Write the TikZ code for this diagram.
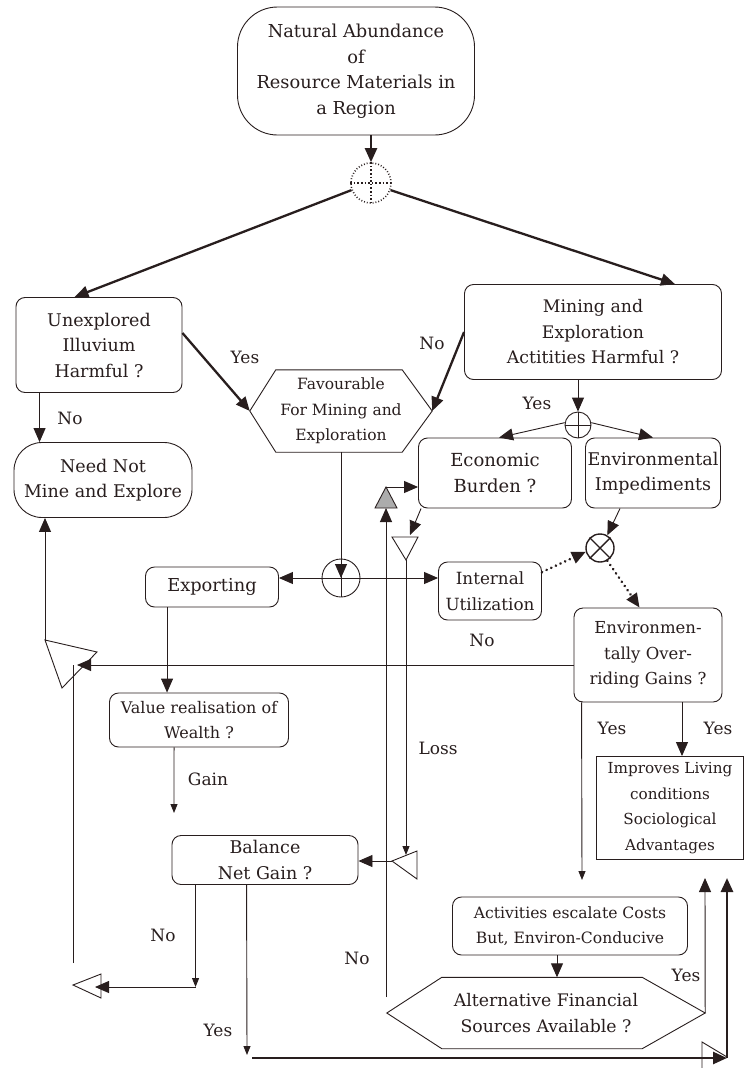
\documentclass[tikz,border=0pt]{standalone}
\usepackage{fontspec}
\setmainfont{DejaVu Serif}
\usetikzlibrary{arrows.meta,calc}
\definecolor{ink}{RGB}{40,30,30}
\newcommand\fsz[1]{\fontsize{#1}{25.5}\selectfont}
\begin{document}
\begin{tikzpicture}[x=1pt,y=-1pt,
  every node/.style={text=ink},
  bx/.style={draw=ink,line width=0.9pt,rounded corners=9pt,align=center,inner sep=0pt},
  sq/.style={draw=ink,line width=0.9pt,align=center,inner sep=0pt},
  plain/.style={align=center,inner sep=0pt},
  ln/.style={draw=ink,line width=0.9pt},
  tk/.style={draw=ink,line width=2.3pt},
  dt/.style={draw=ink,line width=2.8pt,dash pattern=on 0.1pt off 5pt,line cap=round},
  big/.style={-{Triangle[length=14pt,width=12pt]}},
  sml/.style={-{Triangle[length=9pt,width=7pt]}},
  lbl/.style={font=\fsz{17},inner sep=0pt},
  jn/.style={draw=ink,line width=0.9pt,circle,inner sep=0pt},
]
\useasboundingbox[fill=white] (0,0) rectangle (747,1068);

% ---------- nodes ----------
\node[bx,rounded corners=40pt,minimum width=237pt,minimum height=128pt,font=\fsz{17.8}] (top) at (356,71) {Natural Abundance\\of\\Resource Materials in\\a Region};
\node[jn,dotted,line width=1.6pt,minimum size=40pt] (j0) at (371,183) {};
\draw[ink,dotted,line width=1.6pt] (j0.north) -- (j0.south) (j0.west) -- (j0.east);

\node[bx,minimum width=166pt,minimum height=95pt,font=\fsz{17.5}] (unexp) at (99,345) {Unexplored\\Illuvium\\Harmful ?};
\node[bx,rounded corners=28pt,minimum width=178pt,minimum height=75pt,font=\fsz{17.5}] (need) at (103,480) {Need Not\\Mine and Explore};
\node[bx,minimum width=257pt,minimum height=95pt,font=\fsz{17.3}] (mining) at (593,332) {Mining and\\Exploration\\Actitities Harmful ?};

\node[plain,minimum width=182pt,minimum height=82pt,font=\fsz{15.5}] (fav) at (341,411) {Favourable\\For Mining and\\Exploration};
\draw[ln] (fav.west) -- ([xshift=26pt]fav.north west) -- ([xshift=-30pt]fav.north east) -- (fav.east) -- ([xshift=-30pt]fav.south east) -- ([xshift=26pt]fav.south west) -- cycle;

\node[jn,minimum size=26pt] (j1) at (578,425) {};
\draw[ln] (j1.north) -- (j1.south) (j1.west) -- (j1.east);
\node[bx,minimum width=153pt,minimum height=70pt,font=\fsz{18}] (econ) at (495,473) {Economic\\Burden ?};
\node[bx,minimum width=135pt,minimum height=70pt,font=\fsz{17.5}] (env) at (653,473) {Environmental\\Impediments};
\node[jn,line width=1.4pt,minimum size=28pt] (j2) at (600,548) {};
\draw[ink,line width=1.4pt] (j2.45) -- (j2.225) (j2.135) -- (j2.315);

\node[jn,minimum size=38pt] (j3) at (341,578) {};
\draw[ln] (j3.north) -- (j3.south) (j3.west) -- (j3.east);
\node[bx,minimum width=133pt,minimum height=40pt,font=\fsz{17.8}] (exp) at (212,587) {Exporting};
\node[bx,minimum width=103pt,minimum height=58pt,font=\fsz{16.8}] (int) at (490,591) {Internal\\Utilization};
\node[bx,minimum width=148pt,minimum height=94pt,font=\fsz{16.5}] (eg) at (648,655) {Environmen-\\tally Over-\\riding Gains ?};
\node[bx,minimum width=179pt,minimum height=54pt,font=\fsz{16}] (val) at (199,720) {Value realisation of\\Wealth ?};
\node[sq,minimum width=147pt,minimum height=103pt,font=\fsz{15.2}] (imp) at (670,808) {Improves Living\\conditions\\Sociological\\Advantages};
\node[bx,minimum width=186pt,minimum height=49pt,font=\fsz{17.5}] (bal) at (265,860) {Balance\\Net Gain ?};
\node[bx,minimum width=235pt,minimum height=58pt,font=\fsz{15.6}] (act) at (570,926) {Activities escalate Costs\\But, Environ-Conducive};
\node[plain,minimum width=318pt,minimum height=71pt,font=\fsz{17.3}] (alt) at (546,1013) {Alternative Financial\\Sources Available ?};
\draw[ln] (alt.west) -- ([xshift=55pt]alt.north west) -- ([xshift=-63pt]alt.north east) -- (alt.east) -- ([xshift=-63pt]alt.south east) -- ([xshift=55pt]alt.south west) -- cycle;

% ---------- triangles ----------
\draw[ln,fill=gray!65] (375,508) -- (397,508) -- (386,487) -- cycle;
\coordinate (t1b) at (386,508);
\coordinate (t1a) at (386,487);
\draw[ln] (392,537) -- (418,537) -- (406,560) -- cycle;
\coordinate (t2in) at (410,535);
\coordinate (t2a) at (406,560);
\draw[ln] (392,861) -- (417,851) -- (417,879) -- cycle;
\coordinate (t3a) at (392,861);
\coordinate (t3in) at (406,855);
\draw[ln] (45,640) -- (97,652) -- (62,688) -- cycle;
\coordinate (t4) at (45,640);
\coordinate (t4in) at (77,665);
\draw[ln] (73,985) -- (101,974) -- (101,998) -- cycle;
\coordinate (t5b) at (95,987);
\draw[ln] (702,1068) -- (702,1042) -- (727,1057);

% ---------- connectors ----------
\draw[tk,big] (top.south -| j0) -- (j0.north);
\draw[tk,big] (j0.200) -- ([xshift=59pt]unexp.north west);
\draw[tk,big] (j0.-20) -- ([xshift=-47pt]mining.north east);

\path ([xshift=24pt]unexp.south west) coordinate (u1);
\draw[ln,big] (u1) -- (u1 |- need.north);
\draw[tk,big] ([yshift=12pt]unexp.east) -- (fav.west);
\draw[tk,big] (mining.west) -- (fav.east);

\draw[ln,big] (j1 |- mining.south) -- (j1.north);
\draw[ln,big] (j1.170) -- ([xshift=81pt]econ.north west);
\draw[ln,big] (j1.10) -- (env.north);
\draw[ln,big] ([xshift=-33pt]env.south) -- (j2.60);
\draw[dt,big] (int.20) -- (j2.195);
\draw[dt,big] (j2.-60) -- ([xshift=66pt]eg.north west);

\draw[ln,big] (fav.south) -- (j3.center);
\draw[ln,big] (j3.center) -- (j3 -| exp.east);
\draw[ln,big] (j3.center) -- (j3 -| int.west);

\path ([xshift=22pt]exp.south west) coordinate (e1);
\draw[ln,big] (e1) -- (e1 |- val.north);
\path ([xshift=65pt]val.south west) coordinate (v1);
\coordinate (gainend) at (174,813);
\draw[ln,sml] (v1) -- (gainend);

\draw[ln,big] ([xshift=3pt]econ.south west) -- (t2in);
\draw[ln,sml] (t2a) -- (t3in);
\draw[ln,big] (t3a) -- (t3a -| bal.east);
\coordinate (nobot) at (386,997);
\draw[ln,big] (nobot) -- (t1b);
\draw[ln,big] (t1a) -- (t1a -| econ.west);

\draw[ln,big] (t4) -- (t4 |- need.south);
\path (eg.west) ++(0,10) coordinate (egw);
\draw[ln,big] (egw) -- (t4in);
\coordinate (lb) at (73,963);
\draw[ln] (lb) -- (lb |- t4in);

\path ([xshift=34pt]eg.south) coordinate (g1);
\draw[ln,big] (g1) -- (g1 |- imp.north);
\path ([xshift=8pt]eg.south west) coordinate (g2);
\coordinate (actin) at (582,880);
\draw[ln,sml] (g2) -- (actin);

\path ([xshift=-13pt]act.south) coordinate (a1);
\draw[ln,big] (a1) -- (a1 |- alt.north);
\coordinate (altup) at (705,878);
\draw[ln,big] (alt.east) -- (altup);

\path ([xshift=24pt]bal.south west) coordinate (b1);
\draw[ln,sml] (b1) -- (b1 |- t5b);
\draw[ln,big] (b1 |- t5b) -- (t5b);
\path ([xshift=75pt]bal.south west) coordinate (b2);
\coordinate (yesend) at (247,1055);
\draw[ln,sml] (b2) -- (yesend);

\coordinate (bl) at (252,1058);
\coordinate (br) at (727,1058);
\coordinate (brt) at (727,878);
\draw[ink,line width=2.6pt,big] (bl) -- (br);
\draw[ink,line width=2.6pt,big] (br) -- (brt);

% ---------- labels ----------
\node[lbl] (l1) at (245,357) {Yes};
\node[lbl] (l2) at (432,343) {No};
\node[lbl] (l3) at (70,418) {No};
\node[lbl] (l4) at (537,403) {Yes};
\node[lbl] (l5) at (482,640) {No};
\node[lbl] (l6) at (612,728) {Yes};
\node[lbl] (l7) at (718,728) {Yes};
\node[lbl] (l8) at (208,779) {Gain};
\node[lbl] (l9) at (438,748) {Loss};
\node[lbl] (l10) at (163,935) {No};
\node[lbl] (l11) at (357,958) {No};
\node[lbl] (l12) at (686,975) {Yes};
\node[lbl] (l13) at (218,1030) {Yes};
\end{tikzpicture}
\end{document}
